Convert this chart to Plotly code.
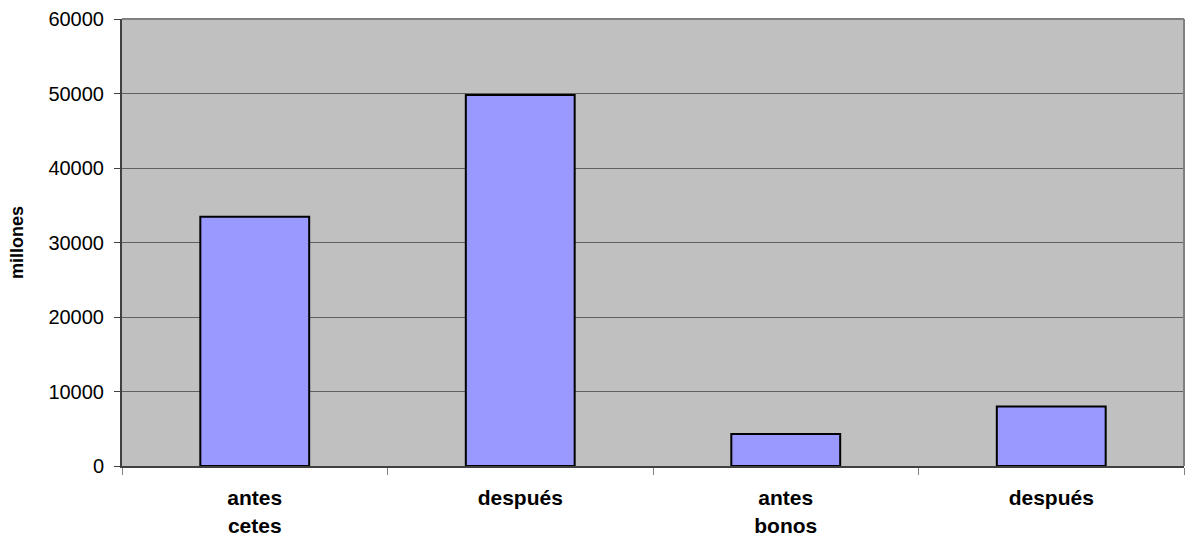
import plotly.graph_objects as go

# Data
categories = ["antes<br>cetes", "después", "antes<br>bonos", "después"]
values = [33450, 49800, 4300, 8000]
y_ticks = [0, 10000, 20000, 30000, 40000, 50000, 60000]
y_title = "millones"

positions = list(range(len(categories)))
boundaries = [p - 0.5 for p in positions] + [positions[-1] + 0.5]

font_family = "Liberation Sans, Arial, sans-serif"

fig = go.Figure()
fig.add_trace(go.Bar(
    x=positions,
    y=values,
    width=0.41,
    marker=dict(color="#9999FF", line=dict(color="#000000", width=2)),
    hoverinfo="y",
))
# invisible trace so the label axis is drawn
fig.add_trace(go.Scatter(x=positions, y=[0] * len(positions), xaxis="x2",
                         mode="markers", marker=dict(opacity=0),
                         hoverinfo="skip", showlegend=False))

fig.update_layout(
    width=1187,
    height=539,
    margin=dict(l=122, r=3, t=19, b=73),
    paper_bgcolor="white",
    plot_bgcolor="#C0C0C0",
    showlegend=False,
    font=dict(family=font_family, color="black"),
    xaxis=dict(
        range=[-0.5, len(categories) - 0.5],
        tickmode="array",
        tickvals=boundaries,
        ticktext=[""] * len(boundaries),
        ticks="outside",
        ticklen=7,
        tickwidth=1,
        tickcolor="#808080",
        showgrid=False,
        zeroline=False,
        showline=True,
        linecolor="#404040",
        linewidth=2,
        mirror=False,
        automargin=False,
        fixedrange=True,
    ),
    xaxis2=dict(
        overlaying="x",
        side="bottom",
        anchor="y",
        range=[-0.5, len(categories) - 0.5],
        tickmode="array",
        tickvals=positions,
        ticktext=[f"<b>{c}</b>" for c in categories],
        ticks="outside",
        ticklen=13,
        tickcolor="rgba(0,0,0,0)",
        tickfont=dict(size=21, family=font_family, color="black"),
        showgrid=False,
        zeroline=False,
        showline=False,
        automargin=False,
    ),
    yaxis=dict(
        range=[0, 60000],
        tickmode="array",
        tickvals=y_ticks,
        ticktext=[str(v) for v in y_ticks],
        ticks="outside",
        ticklen=6,
        tickwidth=1,
        tickcolor="#404040",
        ticklabelstandoff=6,
        tickfont=dict(size=20, family=font_family, color="black"),
        showgrid=True,
        gridcolor="#606060",
        gridwidth=1,
        zeroline=False,
        showline=True,
        linecolor="#404040",
        linewidth=2,
        title=dict(text=f"<b>{y_title}</b>", font=dict(size=18, family=font_family),
                   standoff=20),
        automargin=False,
        fixedrange=True,
    ),
)

# plot-area border on the top and right
fig.add_shape(type="line", xref="paper", yref="paper", x0=0, x1=1, y0=1, y1=1,
              line=dict(color="#808080", width=2))
fig.add_shape(type="line", xref="paper", yref="paper", x0=1, x1=1, y0=0, y1=1,
              line=dict(color="#808080", width=2))

fig.write_html("out.html")
